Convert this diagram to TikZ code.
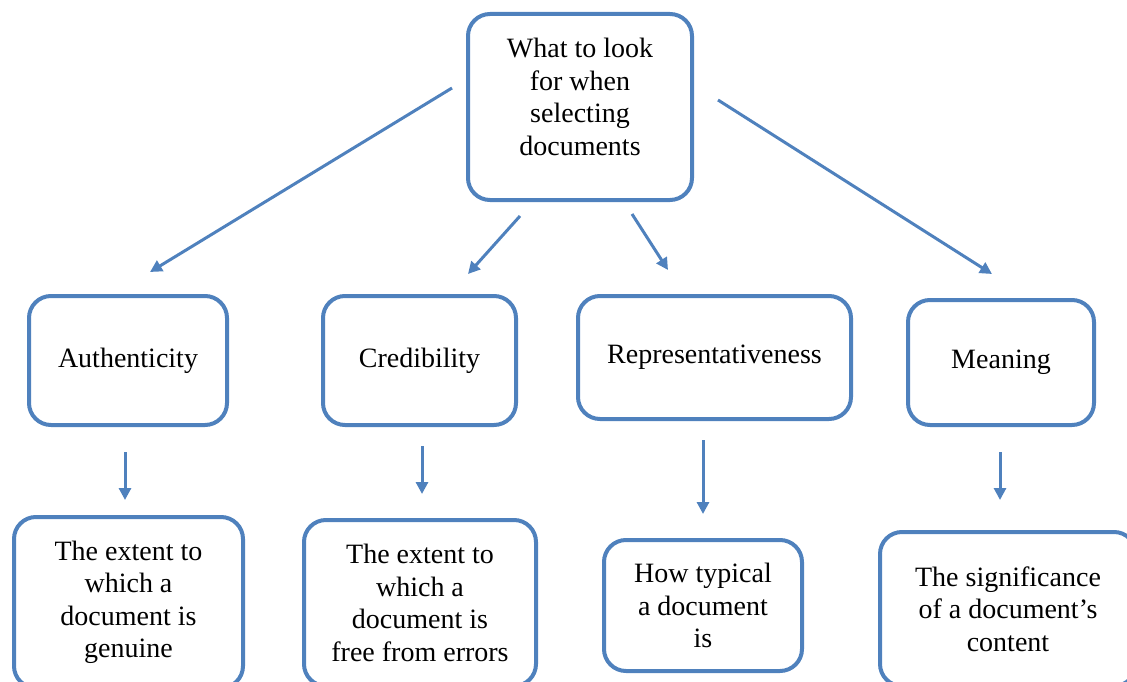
\documentclass[tikz,border=0pt]{standalone}
\usepackage{fontspec}
\setmainfont{Liberation Serif}
\usetikzlibrary{arrows.meta}
\definecolor{boxblue}{RGB}{79,129,189}
\tikzset{
  box/.style={draw=boxblue, line width=4pt, rounded corners=22pt, align=center,
    font=\fontsize{28}{32.5}\selectfont},
  link/.style={draw=boxblue, line width=3pt, -{Triangle[length=12pt,width=12pt]}}
}
\begin{document}
\begin{tikzpicture}[x=1pt,y=-1pt]
  \useasboundingbox (0,0) rectangle (1127,682);
  \clip (0,0) rectangle (1127,682);

  \node[box, minimum width=224pt, minimum height=186pt, text depth=20pt] (top) at (580,107)
    {What to look\\for when\\selecting\\documents};

  \node[box, minimum width=198pt, minimum height=129pt] (auth) at (128,360.5) {Authenticity};
  \node[box, minimum width=193pt, minimum height=129pt] (cred) at (419.5,360.5) {Credibility};
  \node[box, minimum width=273pt, minimum height=123pt] (repr) at (714.5,357.5) {Representativeness};
  \node[box, minimum width=186pt, minimum height=125pt] (mean) at (1001,362.5) {Meaning};

  \node[box, minimum width=229pt, minimum height=171pt] (gen) at (128.5,602.5)
    {The extent to\\which a\\document is\\genuine};
  \node[box, minimum width=232pt, minimum height=166pt] (err) at (420,603)
    {The extent to\\which a\\document is\\free from errors};
  \node[box, minimum width=198pt, minimum height=131pt] (typ) at (703,605.5)
    {How typical\\a document\\is};
  \node[box, minimum width=256pt, minimum height=154pt] (sig) at (1008,609)
    {The significance\\of a document's\\content};

  \coordinate (top-a) at (452,88);
  \coordinate (top-c) at (520,216);
  \coordinate (top-r) at (632,214);
  \coordinate (top-m) at (718,100);
  \coordinate (auth-in) at (150,272);
  \coordinate (cred-in) at (468,274);
  \coordinate (repr-in) at (668,270);
  \coordinate (mean-in) at (992,274);

  \coordinate (auth-out) at (125,452);
  \coordinate (cred-out) at (422,446);
  \coordinate (repr-out) at (703,440);
  \coordinate (mean-out) at (1000,452);
  \coordinate (gen-in) at (125,500);
  \coordinate (err-in) at (422,494);
  \coordinate (typ-in) at (703,514);
  \coordinate (sig-in) at (1000,500);

  \draw[link] (top-a) -- (auth-in);
  \draw[link] (top-c) -- (cred-in);
  \draw[link] (top-r) -- (repr-in);
  \draw[link] (top-m) -- (mean-in);
  \draw[link] (auth-out) -- (gen-in);
  \draw[link] (cred-out) -- (err-in);
  \draw[link] (repr-out) -- (typ-in);
  \draw[link] (mean-out) -- (sig-in);
\end{tikzpicture}
\end{document}
